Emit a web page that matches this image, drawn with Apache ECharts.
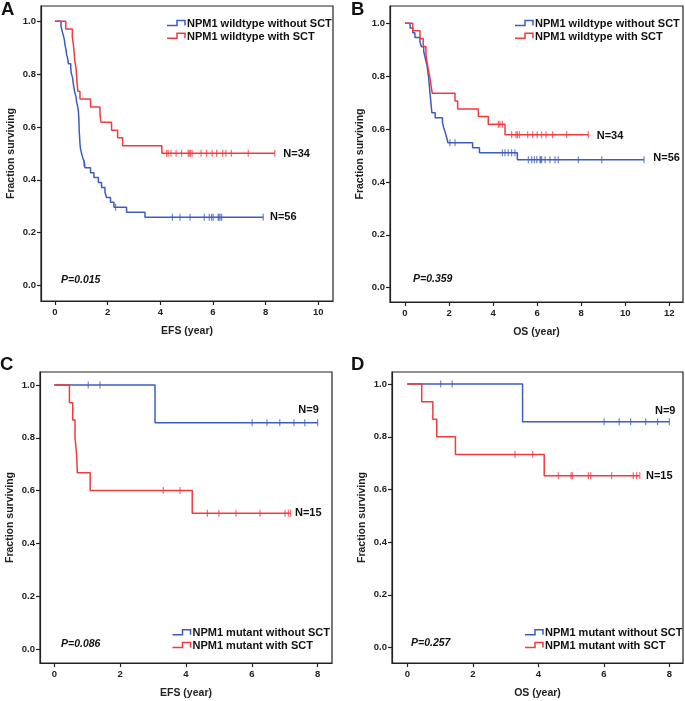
<!DOCTYPE html>
<html>
<head>
<meta charset="utf-8">
<script src="https://cdn.jsdelivr.net/npm/echarts@6/dist/echarts.min.js"></script>
<style>html,body{margin:0;padding:0;background:#fff}#c{width:685px;height:701px}</style>
</head>
<body>
<div id="c"></div>
<script>
// ---------- Data ----------
// Panel A: EFS, NPM1 wildtype
const aBlueT = [0, 0.23, 0.27, 0.32, 0.36, 0.38, 0.42, 0.44, 0.49, 0.51, 0.60, 0.62, 0.67, 0.69, 0.72, 0.75, 0.80, 0.82, 0.86, 0.89, 0.90, 0.91, 0.915, 0.92, 0.93, 0.94, 0.95, 0.97, 1.01, 1.06, 1.12, 1.14, 1.35, 1.48, 1.65, 1.77, 1.90, 1.96, 2.11, 2.24, 2.72, 3.42, 7.91];
const aBlueS = [1, 0.982, 0.964, 0.946, 0.929, 0.911, 0.893, 0.875, 0.857, 0.839, 0.821, 0.804, 0.786, 0.768, 0.750, 0.732, 0.714, 0.696, 0.679, 0.661, 0.643, 0.625, 0.607, 0.589, 0.571, 0.554, 0.536, 0.518, 0.500, 0.482, 0.464, 0.446, 0.427, 0.409, 0.390, 0.371, 0.352, 0.333, 0.315, 0.296, 0.277, 0.258, 0.258];
const aBlueCensT = [1.10, 2.30, 4.46, 4.75, 5.13, 5.67, 5.86, 5.95, 6.01, 6.20, 6.23, 6.27, 6.33, 7.91];
const aBlueCensS = [0.464, 0.296, 0.258, 0.258, 0.258, 0.258, 0.258, 0.258, 0.258, 0.258, 0.258, 0.258, 0.258, 0.258];
const aRedT = [0, 0.41, 0.66, 0.70, 0.73, 0.75, 0.80, 0.82, 0.84, 0.87, 0.95, 1.35, 1.71, 1.75, 2.15, 2.38, 2.57, 4.06, 8.35];
const aRedS = [1, 0.971, 0.941, 0.912, 0.882, 0.853, 0.824, 0.794, 0.765, 0.735, 0.706, 0.676, 0.647, 0.618, 0.588, 0.559, 0.529, 0.500, 0.500];
const aRedCensT = [4.24, 4.30, 4.41, 4.60, 4.81, 5.06, 5.10, 5.15, 5.21, 5.55, 5.76, 5.97, 6.14, 6.37, 6.49, 6.70, 7.34, 8.35];
const aRedCensS = [0.5, 0.5, 0.5, 0.5, 0.5, 0.5, 0.5, 0.5, 0.5, 0.5, 0.5, 0.5, 0.5, 0.5, 0.5, 0.5, 0.5, 0.5];

// Panel B: OS, NPM1 wildtype
const bBlueT = [0, 0.23, 0.35, 0.45, 0.68, 0.75, 0.85, 0.90, 0.95, 1.00, 1.03, 1.06, 1.08, 1.10, 1.12, 1.14, 1.16, 1.18, 1.20, 1.22, 1.37, 1.70, 1.75, 1.82, 1.88, 1.95, 3.07, 3.38, 5.10, 10.85];
const bBlueS = [1, 0.982, 0.964, 0.946, 0.929, 0.911, 0.893, 0.875, 0.857, 0.839, 0.821, 0.804, 0.786, 0.768, 0.750, 0.732, 0.714, 0.696, 0.679, 0.661, 0.643, 0.625, 0.607, 0.589, 0.571, 0.548, 0.529, 0.510, 0.484, 0.484];
const bBlueCensT = [2.04, 2.27, 4.42, 4.54, 4.69, 4.84, 4.99, 5.60, 5.75, 5.87, 5.98, 6.13, 6.16, 6.20, 6.36, 6.58, 6.81, 6.96, 7.87, 8.93, 10.85];
const bBlueCensS = [0.548, 0.548, 0.510, 0.510, 0.510, 0.510, 0.510, 0.484, 0.484, 0.484, 0.484, 0.484, 0.484, 0.484, 0.484, 0.484, 0.484, 0.484, 0.484, 0.484, 0.484];
const bRedT = [0, 0.35, 0.68, 0.83, 0.95, 1.00, 1.06, 1.13, 1.18, 1.24, 2.27, 2.39, 3.33, 3.78, 4.54, 8.32];
const bRedS = [1, 0.971, 0.941, 0.912, 0.882, 0.853, 0.824, 0.794, 0.765, 0.735, 0.706, 0.676, 0.647, 0.618, 0.578, 0.578];
const bRedCensT = [4.24, 4.31, 4.42, 4.84, 5.04, 5.10, 5.19, 5.57, 5.80, 6.00, 6.20, 6.40, 6.70, 7.34, 8.32];
const bRedCensS = [0.618, 0.618, 0.618, 0.578, 0.578, 0.578, 0.578, 0.578, 0.578, 0.578, 0.578, 0.578, 0.578, 0.578, 0.578];

// Panel C: EFS, NPM1 mutant
const cBlueT = [0, 3.06, 8.0];
const cBlueS = [1, 0.857, 0.857];
const cBlueCensT = [1.03, 1.39, 6.01, 6.46, 6.85, 7.28, 7.61, 8.0];
const cBlueCensS = [1, 1, 0.857, 0.857, 0.857, 0.857, 0.857, 0.857];
const cRedT = [0, 0.46, 0.56, 0.63, 0.68, 0.70, 1.09, 4.19, 7.18];
const cRedS = [1, 0.933, 0.867, 0.800, 0.733, 0.667, 0.600, 0.514, 0.514];
const cRedCensT = [3.31, 3.82, 4.65, 5.00, 5.52, 6.25, 7.01, 7.11, 7.18];
const cRedCensS = [0.6, 0.6, 0.514, 0.514, 0.514, 0.514, 0.514, 0.514, 0.514];

// Panel D: OS, NPM1 mutant
const dBlueT = [0, 3.52, 8.0];
const dBlueS = [1, 0.857, 0.857];
const dBlueCensT = [1.02, 1.37, 6.01, 6.47, 6.82, 7.28, 7.64, 8.0];
const dBlueCensS = [1, 1, 0.857, 0.857, 0.857, 0.857, 0.857, 0.857];
const dRedT = [0, 0.44, 0.78, 0.90, 1.47, 4.18, 7.10];
const dRedS = [1, 0.933, 0.867, 0.800, 0.733, 0.652, 0.652];
const dRedCensT = [3.29, 3.83, 4.61, 5.00, 5.04, 5.53, 5.60, 6.24, 6.90, 7.00, 7.10];
const dRedCensS = [0.733, 0.733, 0.652, 0.652, 0.652, 0.652, 0.652, 0.652, 0.652, 0.652, 0.652];

// Tick labels
const yTicks = [0, 0.2, 0.4, 0.6, 0.8, 1.0];
const xTicksA = [0, 2, 4, 6, 8, 10];
const xTicksB = [0, 2, 4, 6, 8, 10, 12];
const xTicksCD = [0, 2, 4, 6, 8];

// Texts
const panelLetters = ['A', 'B', 'C', 'D'];
const xTitles = ['EFS (year)', 'OS (year)', 'EFS (year)', 'OS (year)'];
const yTitle = 'Fraction surviving';
const legendWt = ['NPM1 wildtype without SCT', 'NPM1 wildtype with SCT'];
const legendMut = ['NPM1 mutant without SCT', 'NPM1 mutant with SCT'];
const pValues = ['P=0.015', 'P=0.359', 'P=0.086', 'P=0.257'];
const nLabelsAB = ['N=56', 'N=34'];
const nLabelsCD = ['N=9', 'N=15'];

// ---------- Styling / layout ----------
const BLUE = '#3d5cc2';
const RED = '#f23a3f';
const FONT = '"Liberation Sans", Arial, sans-serif';
const AXC = '#222';

const grids = [
  {left: 41, top: 6, width: 292, height: 295},
  {left: 390, top: 6, width: 293, height: 296},
  {left: 40, top: 372, width: 292, height: 291},
  {left: 392, top: 372, width: 291, height: 291}
];
const xRanges = [[-0.53, 10.56], [-0.681, 12.62], [-0.434, 8.436], [-0.467, 8.418]];
const yRanges = [[-0.059, 1.058], [-0.054, 1.065], [-0.053, 1.049], [-0.059, 1.046]];
const xTickSets = [xTicksA, xTicksB, xTicksCD, xTicksCD];

function pairs(t, s) { return t.map((v, i) => [v, s[i]]); }

const panels = [
  {bT: aBlueT, bS: aBlueS, bcT: aBlueCensT, bcS: aBlueCensS, rT: aRedT, rS: aRedS, rcT: aRedCensT, rcS: aRedCensS, names: legendWt},
  {bT: bBlueT, bS: bBlueS, bcT: bBlueCensT, bcS: bBlueCensS, rT: bRedT, rS: bRedS, rcT: bRedCensT, rcS: bRedCensS, names: legendWt},
  {bT: cBlueT, bS: cBlueS, bcT: cBlueCensT, bcS: cBlueCensS, rT: cRedT, rS: cRedS, rcT: cRedCensT, rcS: cRedCensS, names: legendMut},
  {bT: dBlueT, bS: dBlueS, bcT: dBlueCensT, bcS: dBlueCensS, rT: dRedT, rS: dRedS, rcT: dRedCensT, rcS: dRedCensS, names: legendMut}
];

const xAxes = [], yAxes = [], series = [];
panels.forEach((p, i) => {
  xAxes.push({
    gridIndex: i, type: 'value', min: xRanges[i][0], max: xRanges[i][1],
    name: xTitles[i], nameLocation: 'middle', nameGap: 25,
    nameTextStyle: {fontFamily: FONT, fontWeight: 'bold', fontSize: 10.5, color: '#222'},
    axisLine: {show: true, onZero: false, lineStyle: {color: AXC, width: 1.2}},
    axisTick: {show: true, length: 4, customValues: xTickSets[i], lineStyle: {color: AXC, width: 1.2}},
    axisLabel: {customValues: xTickSets[i], margin: 6, fontFamily: FONT, fontWeight: 'bold', fontSize: 9.5, color: '#222', formatter: v => String(v)},
    splitLine: {show: false}
  });
  yAxes.push({
    gridIndex: i, type: 'value', min: yRanges[i][0], max: yRanges[i][1],
    name: yTitle, nameLocation: 'middle', nameGap: 24,
    nameTextStyle: {fontFamily: FONT, fontWeight: 'bold', fontSize: 10.5, color: '#222'},
    axisLine: {show: true, onZero: false, lineStyle: {color: AXC, width: 1.2}},
    axisTick: {show: true, length: 4, customValues: yTicks, lineStyle: {color: AXC, width: 1.2}},
    axisLabel: {customValues: yTicks, margin: 5, fontFamily: FONT, fontWeight: 'bold', fontSize: 9.5, color: '#222', formatter: v => v.toFixed(1)},
    splitLine: {show: false}
  });
  series.push({
    name: p.names[0], type: 'line', xAxisIndex: i, yAxisIndex: i, step: 'end', symbol: 'none',
    lineStyle: {color: BLUE, width: 1.5}, itemStyle: {color: BLUE}, data: pairs(p.bT, p.bS), z: 2, animation: false
  });
  series.push({
    name: p.names[0], type: 'scatter', xAxisIndex: i, yAxisIndex: i, symbol: 'rect', symbolSize: [1.2, 7],
    itemStyle: {color: BLUE, opacity: 0.75}, data: pairs(p.bcT, p.bcS), z: 2, animation: false
  });
  series.push({
    name: p.names[1], type: 'line', xAxisIndex: i, yAxisIndex: i, step: 'end', symbol: 'none',
    lineStyle: {color: RED, width: 1.5}, itemStyle: {color: RED}, data: pairs(p.rT, p.rS), z: 3, animation: false
  });
  series.push({
    name: p.names[1], type: 'scatter', xAxisIndex: i, yAxisIndex: i, symbol: 'rect', symbolSize: [1.2, 7],
    itemStyle: {color: RED, opacity: 0.75}, data: pairs(p.rcT, p.rcS), z: 3, animation: false
  });
});

// ---------- Annotations ----------
const txt = (x, y, text, size, extra) => ({
  type: 'text', x: x, y: y,
  style: Object.assign({text: text, fontFamily: FONT, fontWeight: 'bold', fontSize: size, fill: '#111', textVerticalAlign: 'middle'}, extra || {})
});
function legendItem(x, y, color, label) {
  return [
    {type: 'polyline', shape: {points: [[x, y + 1.5], [x + 10, y + 1.5], [x + 10, y - 3.5], [x + 18, y - 3.5], [x + 18, y + 1.5]]},
     style: {stroke: color, lineWidth: 1.5, fill: null}},
    txt(x + 20, y, label, 11)
  ];
}
const letterPos = [[1, 9.5], [351, 9.5], [0, 365], [351, 365]];
const pPos = [[61, 280], [413, 279.5], [61, 644.5], [411, 643.5]];
const legendPos = [[167, 24, 36.7], [515, 24, 36.7], [172.5, 633.3, 646], [525, 633.3, 646]];
const nPos = [
  [[270, 216.7], [283.3, 153.7]],
  [[653.3, 158.3], [596.7, 136]],
  [[298.3, 410], [295, 513.3]],
  [[655, 410.7], [646, 476]]
];
const graphics = [];
panelLetters.forEach((L, i) => {
  graphics.push(txt(letterPos[i][0], letterPos[i][1], L, 18.5));
  graphics.push(txt(pPos[i][0], pPos[i][1], pValues[i], 10.5, {fontStyle: 'italic'}));
  const names = i < 2 ? legendWt : legendMut;
  graphics.push(...legendItem(legendPos[i][0], legendPos[i][1], BLUE, names[0]));
  graphics.push(...legendItem(legendPos[i][0], legendPos[i][2], RED, names[1]));
  const nl = i < 2 ? nLabelsAB : nLabelsCD;
  graphics.push(txt(nPos[i][0][0], nPos[i][0][1], nl[0], 11));
  graphics.push(txt(nPos[i][1][0], nPos[i][1][1], nl[1], 11));
});

const chart = echarts.init(document.getElementById('c'), null, {renderer: 'canvas'});
chart.setOption({
  animation: false,
  backgroundColor: '#fff',
  grid: grids.map(g => Object.assign({show: true, borderColor: AXC, borderWidth: 1.2, backgroundColor: 'transparent'}, g)),
  xAxis: xAxes,
  yAxis: yAxes,
  series: series,
  graphic: graphics
});
</script>
</body>
</html>
